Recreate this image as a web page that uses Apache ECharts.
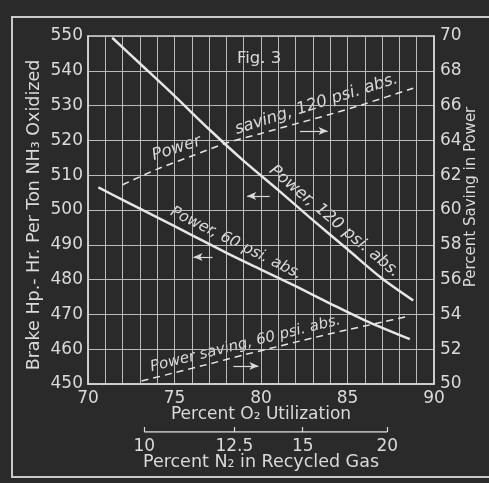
<!DOCTYPE html>
<html>
<head>
<meta charset="utf-8">
<script src="https://cdn.jsdelivr.net/npm/echarts@6/dist/echarts.min.js"></script>
<style>
  html, body { margin: 0; padding: 0; background: #2a2a2a; }
  #chart { width: 489px; height: 483px; }
</style>
</head>
<body>
<div id="chart"></div>
<script>
// Percent O2 utilization (x) for each curve
const power120X = [71.4, 73, 75, 77, 79, 81, 83, 85, 87, 88.8];
const power120Y = [549.5, 542.1, 532.8, 523.2, 514.1, 505.7, 497.1, 488.7, 480.3, 474.0];

const power60X = [70.6, 72, 74, 76, 78, 80, 82, 84, 86, 88.6];
const power60Y = [506.5, 502.9, 497.9, 492.8, 487.7, 482.9, 478.1, 473.1, 468.3, 462.9];

const saving120X = [72, 74, 76, 78, 80, 82, 84, 86, 88.8];
const saving120Y = [61.45, 62.35, 63.1, 63.85, 64.4, 64.95, 65.5, 66.1, 67.0];

const saving60X = [73.1, 75, 77, 79, 81, 83, 85, 87, 88.4];
const saving60Y = [50.17, 50.65, 51.15, 51.67, 52.16, 52.65, 53.12, 53.55, 53.87];

// Secondary scale: percent N2 in recycled gas, placed at the matching O2 utilization
const n2Labels = ['10', '12.5', '15', '20'];
const n2AtO2 = [73.25, 78.46, 82.41, 87.30];

// Direction arrows pointing to the axis each curve is read on: [x1, y1, x2, y2]
const arrowPower120 = [80.5, 504.0, 79.2, 504.0];
const arrowPower60 = [77.2, 486.5, 76.1, 486.5];
const arrowSaving120 = [82.25, 64.54, 83.85, 64.54];
const arrowSaving60 = [78.4, 51.03, 79.85, 51.03];

const FONT = 'DejaVu Sans';
const INK = '#dadada';
const LINE = '#e6e6e6';
const GRIDC = '#bababa';

function pairs(xs, ys) { return xs.map((x, i) => [x, ys[i]]); }

function arrowMark(a) {
  return {
    silent: true,
    animation: false,
    symbol: ['none', 'arrow'],
    symbolSize: [6, 9],
    label: { show: false },
    lineStyle: { color: INK, width: 1.2, type: 'solid' },
    data: [[{ coord: [a[0], a[1]] }, { coord: [a[2], a[3]] }]]
  };
}

const chart = echarts.init(document.getElementById('chart'), null, { renderer: 'canvas' });

const option = {
  backgroundColor: '#2a2a2a',
  animation: false,
  textStyle: { fontFamily: FONT, color: INK },
  title: {
    text: 'Fig. 3',
    left: 232, top: 45,
    textStyle: { fontFamily: FONT, fontSize: 16.5, fontWeight: 'normal', color: INK }
  },
  grid: [
    { left: 88, right: 55, top: 36, bottom: 99, show: true, borderColor: '#d6d6d6', borderWidth: 1.5, backgroundColor: 'transparent', outerBoundsMode: 'none' },
    { left: 88, right: 55, top: 422, height: 10, show: false, outerBoundsMode: 'none' }
  ],
  xAxis: [
    {
      type: 'value', gridIndex: 0, min: 70, max: 90, interval: 1,
      axisLine: { show: true, lineStyle: { color: '#d6d6d6', width: 1.5 } },
      axisTick: { show: false },
      axisLabel: {
        interval: 0, margin: 6, fontSize: 17, color: INK, fontFamily: FONT,
        formatter: v => (v % 5 === 0 ? String(v) : '')
      },
      splitLine: { show: true, lineStyle: { color: GRIDC, width: 1 } },
      name: 'Percent O\u2082 Utilization',
      nameLocation: 'middle', nameGap: 22, nameMoveOverlap: false,
      nameTextStyle: { fontSize: 17, color: INK, fontFamily: FONT }
    },
    {
      type: 'value', gridIndex: 1, min: 70, max: 90, position: 'bottom',
      axisLine: { show: false },
      axisTick: { show: true, inside: true, length: 5, customValues: n2AtO2, lineStyle: { color: INK, width: 1.2 } },
      axisLabel: {
        margin: 6, fontSize: 17, color: INK, fontFamily: FONT,
        customValues: n2AtO2,
        formatter: v => { const i = n2AtO2.findIndex(t => Math.abs(t - v) < 1e-6); return i >= 0 ? n2Labels[i] : ''; }
      },
      splitLine: { show: false },
      name: 'Percent N\u2082 in Recycled Gas',
      nameLocation: 'middle', nameGap: 21, nameMoveOverlap: false,
      nameTextStyle: { fontSize: 17.5, color: INK, fontFamily: FONT }
    }
  ],
  yAxis: [
    {
      type: 'value', gridIndex: 0, min: 450, max: 550, interval: 10,
      axisLine: { show: true, lineStyle: { color: '#d6d6d6', width: 1.5 } },
      axisTick: { show: false },
      axisLabel: { margin: 5, fontSize: 17, color: INK, fontFamily: FONT },
      splitLine: { show: true, lineStyle: { color: GRIDC, width: 1 } }
    },
    {
      type: 'value', gridIndex: 0, min: 50, max: 70, interval: 2, position: 'right',
      axisLine: { show: true, lineStyle: { color: '#d6d6d6', width: 1.5 } },
      axisTick: { show: false },
      axisLabel: { margin: 6, fontSize: 17, color: INK, fontFamily: FONT },
      splitLine: { show: false }
    },
    { type: 'value', gridIndex: 1, min: 0, max: 1, show: false }
  ],
  series: [
    {
      name: 'Power, 120 psi. abs.', type: 'line', xAxisIndex: 0, yAxisIndex: 0,
      data: pairs(power120X, power120Y), smooth: 0.3, symbol: 'none',
      lineStyle: { color: LINE, width: 2.5 }, markLine: arrowMark(arrowPower120)
    },
    {
      name: 'Power, 60 psi. abs.', type: 'line', xAxisIndex: 0, yAxisIndex: 0,
      data: pairs(power60X, power60Y), smooth: 0.3, symbol: 'none',
      lineStyle: { color: LINE, width: 2.5 }, markLine: arrowMark(arrowPower60)
    },
    {
      name: 'Power saving, 120 psi. abs.', type: 'line', xAxisIndex: 0, yAxisIndex: 1,
      data: pairs(saving120X, saving120Y), smooth: 0.3, symbol: 'none',
      lineStyle: { color: LINE, width: 1.5, type: [7, 5] }, markLine: arrowMark(arrowSaving120)
    },
    {
      name: 'Power saving, 60 psi. abs.', type: 'line', xAxisIndex: 0, yAxisIndex: 1,
      data: pairs(saving60X, saving60Y), smooth: 0.3, symbol: 'none',
      lineStyle: { color: LINE, width: 1.5, type: [7, 5] }, markLine: arrowMark(arrowSaving60)
    },
    {
      // baseline of the N2 scale, spanning its first to last tick
      name: 'N2 scale', type: 'line', xAxisIndex: 1, yAxisIndex: 2,
      data: [[n2AtO2[0], 0], [n2AtO2[n2AtO2.length - 1], 0]], symbol: 'none', silent: true,
      lineStyle: { color: INK, width: 1.3 }
    }
  ],
  graphic: [
    {
      id: 'frame', type: 'rect', silent: true, z: -1,
      shape: { x: 12, y: 17, width: 520, height: 460 },
      style: { fill: 'none', stroke: '#c9c9c9', lineWidth: 2 }
    },
    {
      id: 'leftTitle', type: 'text', silent: true,
      x: 34, y: 215, rotation: Math.PI / 2,
      style: { text: 'Brake Hp.- Hr. Per Ton NH\u2083 Oxidized', fontFamily: FONT, fontSize: 17.5, fill: INK, align: 'center', verticalAlign: 'middle' }
    },
    {
      id: 'rightTitle', type: 'text', silent: true,
      x: 471, y: 197, rotation: Math.PI / 2,
      style: { text: 'Percent Saving in Power', fontFamily: FONT, fontSize: 15, fill: INK, align: 'center', verticalAlign: 'middle' }
    }
  ]
};

chart.setOption(option);

// Curve captions written along each curve, following the chord between x1 and x2
function interp(xs, ys, x) {
  for (let i = 0; i < xs.length - 1; i++) {
    if (x >= xs[i] && x <= xs[i + 1]) {
      const t = (x - xs[i]) / (xs[i + 1] - xs[i]);
      return ys[i] + t * (ys[i + 1] - ys[i]);
    }
  }
  return x < xs[0] ? ys[0] : ys[ys.length - 1];
}

function caption(id, text, xs, ys, yAxisIndex, x1, x2, offset, fontSize) {
  const finder = { xAxisIndex: 0, yAxisIndex: yAxisIndex };
  const a = chart.convertToPixel(finder, [x1, interp(xs, ys, x1)]);
  const b = chart.convertToPixel(finder, [x2, interp(xs, ys, x2)]);
  const cx = (a[0] + b[0]) / 2, cy = (a[1] + b[1]) / 2;
  const ang = Math.atan2(b[1] - a[1], b[0] - a[0]);
  return {
    id: id, type: 'text', silent: true,
    x: cx + Math.sin(ang) * offset,
    y: cy - Math.cos(ang) * offset,
    rotation: -ang,
    style: { text: text, fontFamily: FONT, fontStyle: 'italic', fontSize: fontSize, fill: INK, align: 'center', verticalAlign: 'middle' }
  };
}

chart.setOption({
  graphic: [
    caption('capS120', 'Power       saving, 120 psi. abs.', saving120X, saving120Y, 1, 73.9, 88.2, 14, 16.5),
    caption('capP120', 'Power, 120 psi. abs.', power120X, power120Y, 0, 80.0, 87.6, 12, 16.5),
    caption('capP60', 'Power, 60 psi. abs.', power60X, power60Y, 0, 74.5, 82.0, 12, 15.5),
    caption('capS60', 'Power saving, 60 psi. abs.', saving60X, saving60Y, 1, 73.5, 85.0, 11, 15)
  ]
});
</script>
</body>
</html>
